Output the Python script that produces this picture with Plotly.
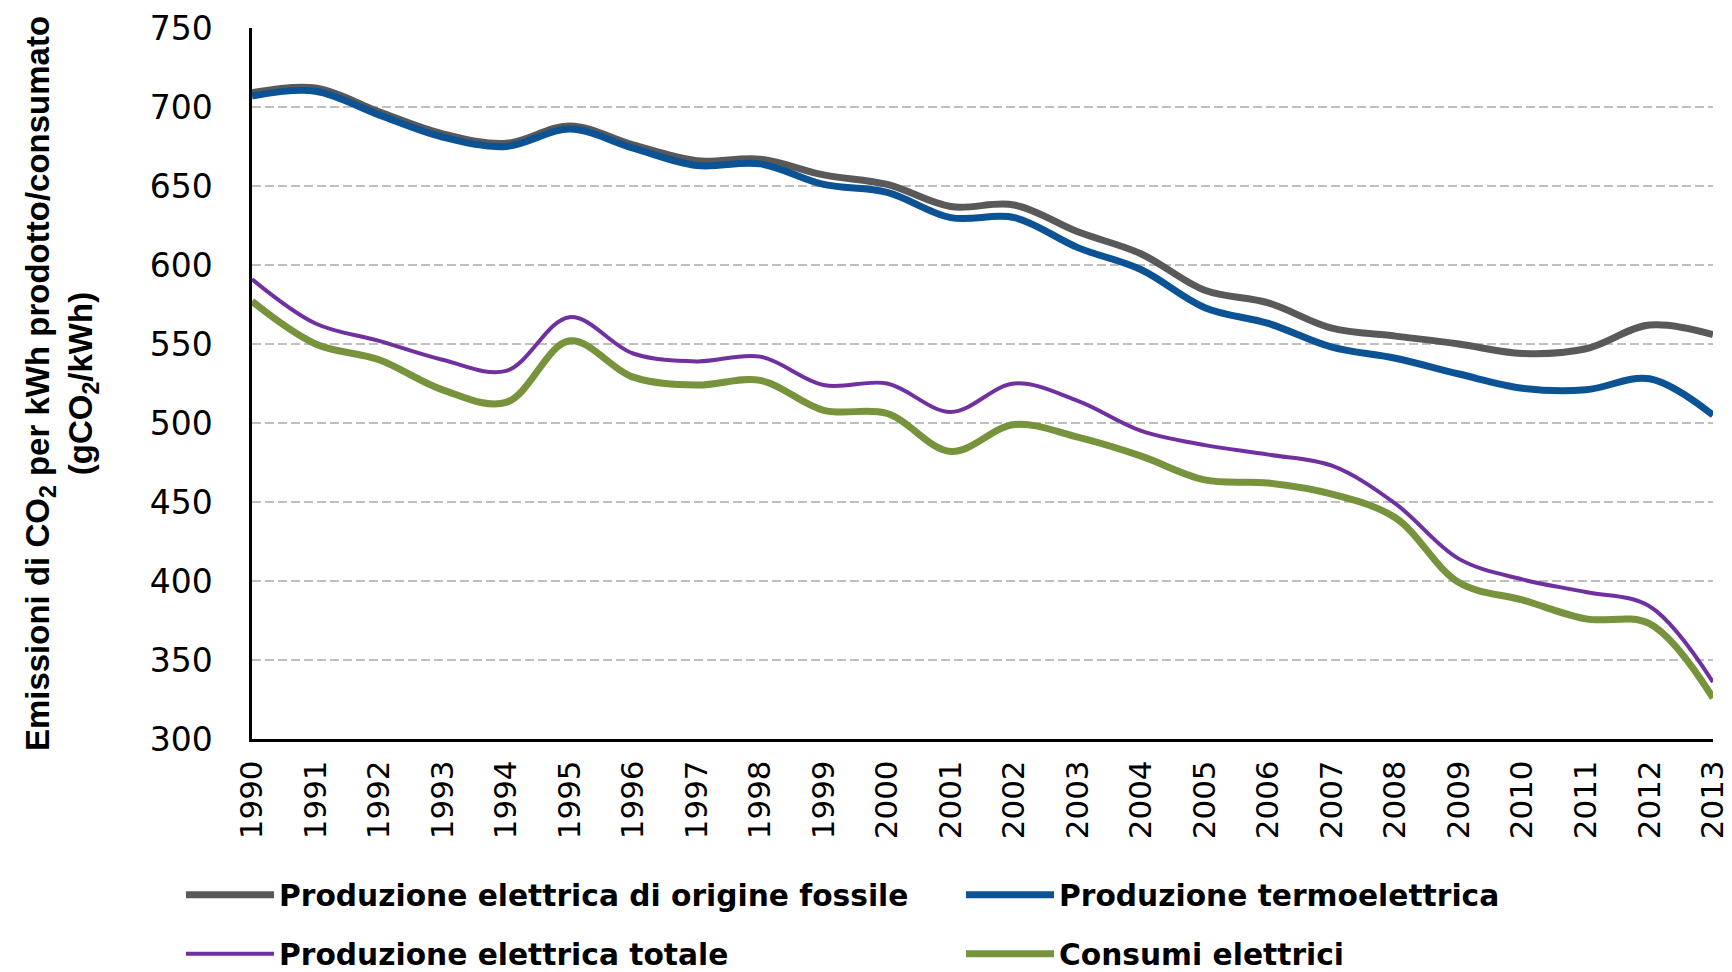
import plotly.graph_objects as go

years = list(range(1990, 2014))
fossile = [709, 712, 697, 683, 677, 688, 676, 666, 667, 657, 651, 637, 638, 621, 607, 584, 576, 560, 555, 550, 544, 547, 562, 556]
termo = [707, 710, 695, 681, 675, 686, 674, 663, 664, 651, 646, 630, 630, 611, 597, 573, 563, 548, 541, 531, 522, 521, 528, 505]
totale = [591, 563, 552, 540, 533, 567, 544, 539, 542, 524, 525, 507, 525, 514, 495, 486, 480, 473, 449, 414, 401, 393, 384, 336]
consumi = [577, 550, 540, 521, 513, 552, 529, 524, 527, 508, 506, 482, 499, 491, 479, 464, 462, 455, 440, 399, 388, 376, 373, 326]

names = ["Produzione elettrica di origine fossile", "Produzione termoelettrica",
         "Produzione elettrica totale", "Consumi elettrici"]
colors = ["#595959", "#0B5394", "#7030A0", "#77933C"]
widths = [7, 7, 4, 7]
legend_ids = ["legend", "legend2", "legend3", "legend4"]
series = [fossile, termo, totale, consumi]

fig = go.Figure()
for nm, ys, c, w, lg in zip(names, series, colors, widths, legend_ids):
    fig.add_trace(go.Scatter(
        x=years, y=ys, name=nm, mode="lines",
        line=dict(color=c, width=w, shape="spline", smoothing=1.0),
        legend=lg,
    ))

legend_font = dict(family="DejaVu Sans, sans-serif", size=29.7, color="black", weight="bold")
# legend entry anchors (container pixels): two columns, two rows
leg_x = [181, 961, 181, 961]
leg_y = [895, 895, 954, 954]
legend_layout = {}
for lg, lx, ly in zip(legend_ids, leg_x, leg_y):
    legend_layout[lg] = dict(
        orientation="h", xref="container", yref="container",
        x=lx / 1732, y=1 - ly / 972, xanchor="left", yanchor="middle",
        itemwidth=88, font=legend_font, bgcolor="rgba(0,0,0,0)",
    )

fig.update_layout(
    width=1732, height=972,
    margin=dict(l=252, r=19, t=28, b=233, autoexpand=False),
    plot_bgcolor="white", paper_bgcolor="white",
    showlegend=True,
    **legend_layout,
)
fig.update_xaxes(
    range=[1990, 2013], dtick=1, tick0=1990, tickangle=-90,
    showgrid=False, zeroline=False, automargin=False,
    showline=True, linecolor="black", linewidth=3,
    ticks="", ticklabelstandoff=6,
    tickfont=dict(family="DejaVu Sans", size=31, color="black"),
)
fig.update_yaxes(
    range=[300, 750], dtick=50, tick0=300,
    showgrid=True, gridcolor="#BFBFBF", gridwidth=2, griddash="9px,4px",
    zeroline=False, automargin=False,
    showline=True, linecolor="black", linewidth=2.5,
    ticks="", ticklabelstandoff=30,
    tickfont=dict(family="DejaVu Sans", size=33, color="black"),
    title=dict(text="Emissioni di CO<sub>2</sub> per kWh prodotto/consumato<br>(gCO<sub>2</sub>/kWh)",
               font=dict(family="Liberation Sans, Arial, sans-serif", size=33, color="black", weight="bold"),
               standoff=48),
)

fig.write_html("out.html", config={"displayModeBar": False},
               post_script="document.body.style.margin='0';")
